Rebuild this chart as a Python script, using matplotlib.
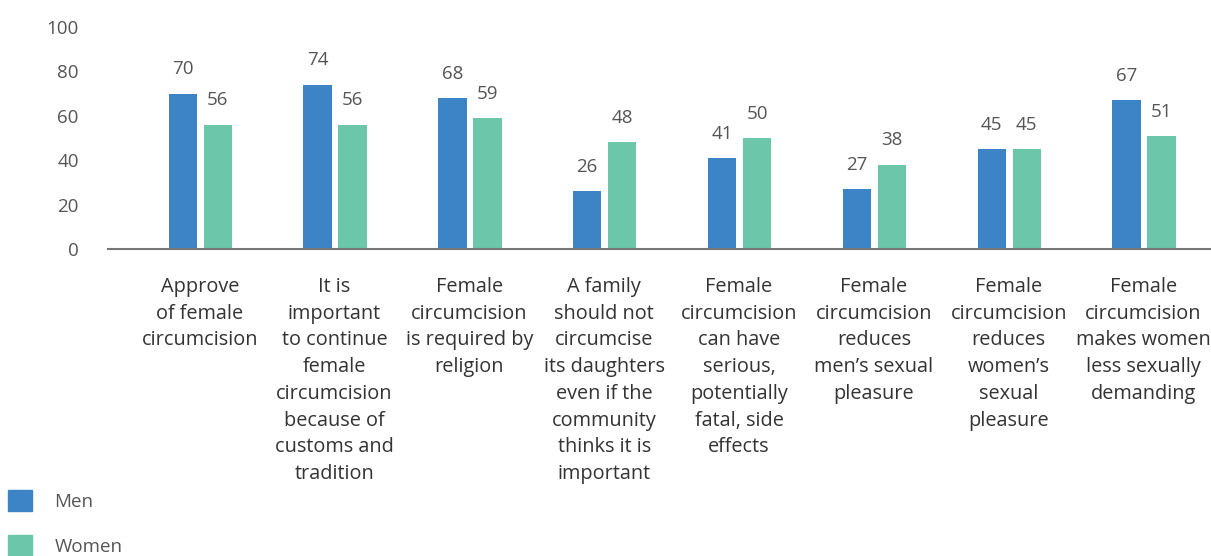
import matplotlib.pyplot as plt
import numpy as np
from matplotlib.patches import Patch

categories = [
    "Approve\nof female\ncircumcision",
    "It is\nimportant\nto continue\nfemale\ncircumcision\nbecause of\ncustoms and\ntradition",
    "Female\ncircumcision\nis required by\nreligion",
    "A family\nshould not\ncircumcise\nits daughters\neven if the\ncommunity\nthinks it is\nimportant",
    "Female\ncircumcision\ncan have\nserious,\npotentially\nfatal, side\neffects",
    "Female\ncircumcision\nreduces\nmen\u2019s sexual\npleasure",
    "Female\ncircumcision\nreduces\nwomen\u2019s\nsexual\npleasure",
    "Female\ncircumcision\nmakes women\nless sexually\ndemanding",
]
men = [70, 74, 68, 26, 41, 27, 45, 67]
women = [56, 56, 59, 48, 50, 38, 45, 51]

men_color = "#3d84c6"
women_color = "#6cc6a9"
text_color = "#555555"

plt.rcParams['font.family'] = ['Open Sans', 'DejaVu Sans']

fig = plt.figure(figsize=(12.11, 5.56), dpi=100)
ax = fig.add_axes([108 / 1211, 1 - 249 / 556, 1 - 108 / 1211, 222 / 556])

x = np.arange(len(categories))
w = 0.21
b1 = ax.bar(x - 0.126, men, w, color=men_color)
b2 = ax.bar(x + 0.134, women, w, color=women_color)

for bars, vals in ((b1, men), (b2, women)):
    for rect, v in zip(bars, vals):
        ax.annotate(str(v), (rect.get_x() + rect.get_width() / 2, v),
                    xytext=(0, 11), textcoords="offset points",
                    ha="center", va="bottom", fontsize=13.5, color=text_color)

ax.set_xlim(-0.68, 7.5)
ax.set_ylim(0, 100)
ax.set_yticks([0, 20, 40, 60, 80, 100])
ax.tick_params(axis="y", length=0, pad=21, labelsize=13.5, labelcolor=text_color)
ax.set_xticks(x)
ax.set_xticklabels(categories, fontsize=14.3, color="#333333", linespacing=1.45)
ax.tick_params(axis="x", length=0, pad=20)

for s in ("top", "right", "left"):
    ax.spines[s].set_visible(False)
ax.spines["bottom"].set_color("#777777")
ax.spines["bottom"].set_linewidth(1.5)

handles = [Patch(color=men_color, label="Men"), Patch(color=women_color, label="Women")]
fig.legend(handles=handles, loc="lower left", bbox_to_anchor=(0.0, -0.013),
           borderaxespad=0.0, frameon=False, fontsize=13.5, handlelength=1.3,
           handleheight=1.3, handletextpad=1.2, labelspacing=1.3,
           labelcolor=text_color)

fig.savefig("out.png", dpi=100)
